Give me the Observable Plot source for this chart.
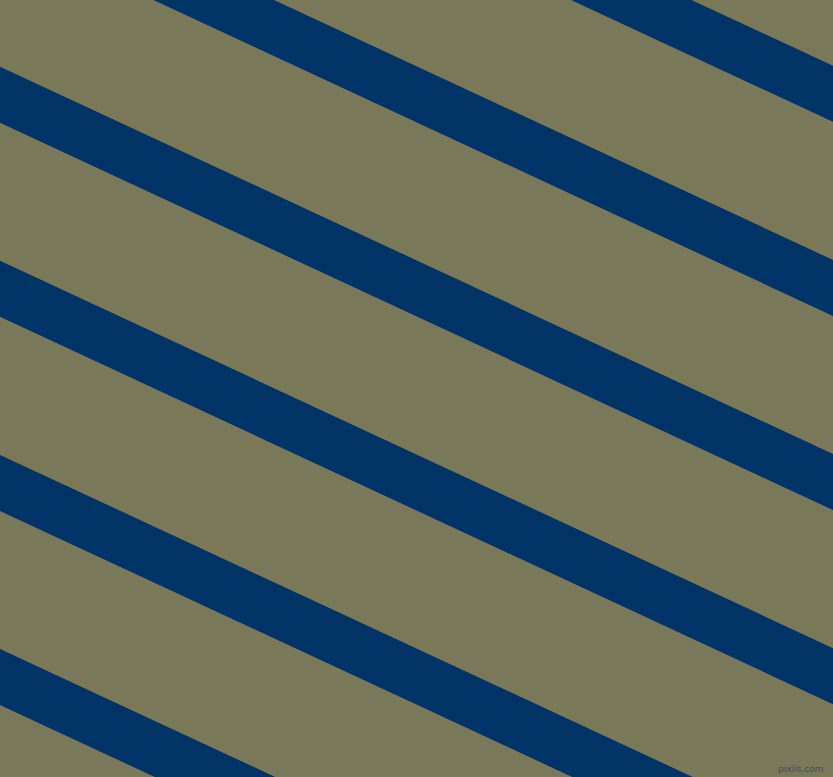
<!DOCTYPE html>
<html>
<head>
<meta charset="utf-8">
<script src="https://cdn.jsdelivr.net/npm/d3@7"></script>
<script src="https://cdn.jsdelivr.net/npm/@observablehq/plot@0.6"></script>
<style>
  html, body { margin: 0; padding: 0; overflow: hidden; background: #797859; }
  #chart svg { display: block; }
</style>
</head>
<body>
<div id="chart"></div>
<script>
// Stripe data: y (px units of the 833x777 canvas) of each stripe's upper edge at x = 0
const stripeOffsets = [-321.5, -127.4, 66.7, 260.8, 454.9, 649.0];
const stripeSlope = 0.465;       // drop per unit x
const stripeThickness = 56;      // vertical thickness
const xExtent = [0, 833];
const yExtent = [0, 777];
const watermark = ["pixiis.com"];

const rows = [];
stripeOffsets.forEach((off, i) => {
  xExtent.forEach(x => {
    rows.push({stripe: i, x, y1: off + stripeSlope * x, y2: off + stripeThickness + stripeSlope * x});
  });
});

const chart = Plot.plot({
  width: 833,
  height: 777,
  margin: 0,
  style: {background: "#797859", overflow: "hidden"},
  x: {domain: xExtent, range: [0, 833], axis: null},
  y: {domain: yExtent, range: [0, 777], axis: null},
  marks: [
    Plot.area(rows, {x1: "x", y1: "y1", y2: "y2", z: "stripe", fill: "#003366", clip: true}),
    Plot.text(watermark, {
      text: d => d,
      frameAnchor: "bottom-right",
      dx: -10, dy: -6,
      fontSize: 9,
      fontFamily: "DejaVu Sans",
      fill: "#3e4e5c"
    })
  ]
});
document.getElementById("chart").appendChild(chart);
</script>
</body>
</html>
